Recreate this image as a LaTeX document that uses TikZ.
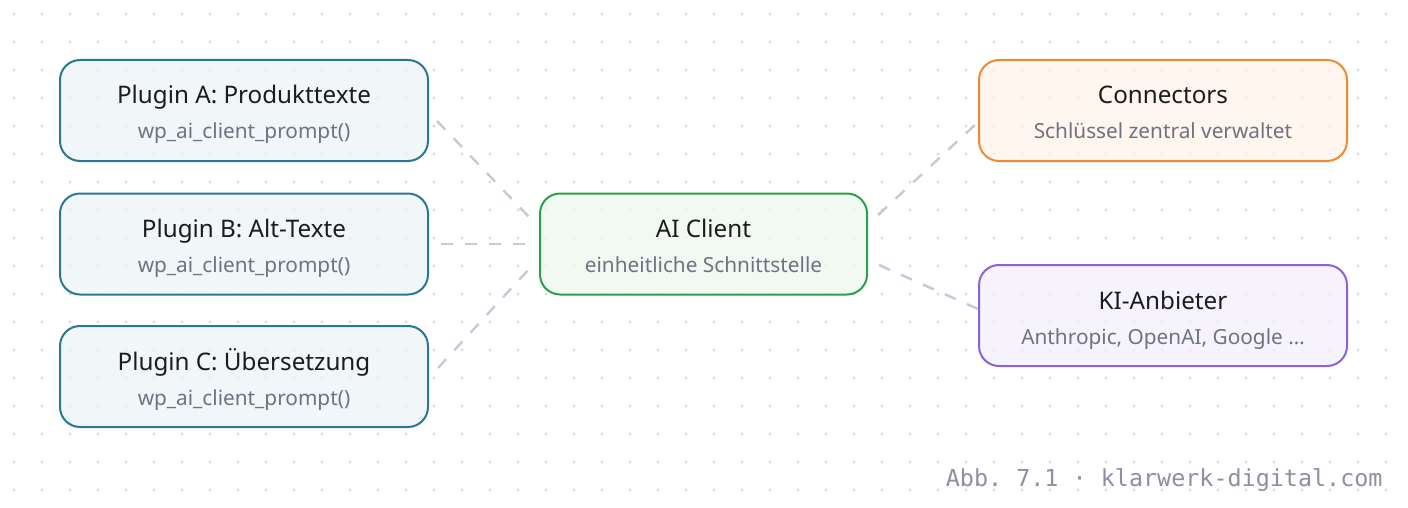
\documentclass[tikz,border=0pt]{standalone}
\usepackage{fontspec}
\setmainfont{Noto Sans}
\setmonofont{DejaVu Sans Mono}
\usetikzlibrary{calc}

\definecolor{dotc}{HTML}{DCDCDE}
\definecolor{linkc}{HTML}{C8C9D8}
\definecolor{plugline}{HTML}{2B7895}
\definecolor{plugfill}{HTML}{EDF4F6}
\definecolor{clientline}{HTML}{2AA04C}
\definecolor{clientfill}{HTML}{EEF8EF}
\definecolor{connline}{HTML}{EF8A33}
\definecolor{connfill}{HTML}{FFF4EA}
\definecolor{kiline}{HTML}{8E62D9}
\definecolor{kifill}{HTML}{F4F0FD}
\definecolor{titlec}{HTML}{1C1C1C}
\definecolor{subc}{HTML}{6E7380}
\definecolor{footc}{HTML}{8C90A0}

\tikzset{
  box/.style={draw, rounded corners=10pt, line width=1pt, minimum width=184pt,
    minimum height=50.5pt, fill opacity=0.75, draw opacity=1, inner sep=0pt},
  plugin/.style={box, draw=plugline, fill=plugfill},
  client/.style={box, draw=clientline, fill=clientfill, minimum width=163.5pt},
  conn/.style={box, draw=connline, fill=connfill},
  ki/.style={box, draw=kiline, fill=kifill},
  title/.style={anchor=base, inner sep=0pt, text=titlec, font=\fontsize{12.1}{14}\selectfont},
  sub/.style={anchor=base, inner sep=0pt, text=subc, font=\fontsize{10.4}{12}\selectfont},
  link/.style={draw=linkc, line width=1.2pt, dash pattern=on 6pt off 6pt},
}

\begin{document}
\begin{tikzpicture}[x=0.5pt, y=-0.5pt]
    \useasboundingbox[fill=white] (0,0) rectangle (1408,508);
    % Dot grid
    \foreach \i in {0,...,49}
      \foreach \j in {0,...,17}
        \fill[dotc] (14+28*\i, 14+28*\j) circle (0.8pt);

    % Plugins
    \node[plugin] (pa) at (244,110.5) {};
    \node[title] (pat) at ($(pa)+(0,-6.5)$) {Plugin A: Produkttexte};
    \node[sub] (pas) at ($(pa)+(0,28.5)$) {wp\_ai\_client\_prompt()};

    \node[plugin] (pb) at (244,244) {};
    \node[title] (pbt) at ($(pb)+(0,-6.5)$) {Plugin B: Alt-Texte};
    \node[sub] (pbs) at ($(pb)+(0,28.5)$) {wp\_ai\_client\_prompt()};

    \node[plugin] (pc) at (244,376.5) {};
    \node[title] (pct) at ($(pc)+(0,-6.5)$) {Plugin C: Übersetzung};
    \node[sub] (pcs) at ($(pc)+(0,28.5)$) {wp\_ai\_client\_prompt()};

    % Client
    \node[client] (cl) at (703.5,244) {};
    \node[title] (clt) at ($(cl)+(0,-6.5)$) {AI Client};
    \node[sub] (cls) at ($(cl)+(0,28.5)$) {einheitliche Schnittstelle};

    % Right side
    \node[conn] (co) at (1163,110.5) {};
    \node[title] (cot) at ($(co)+(0,-6.5)$) {Connectors};
    \node[sub] (cos) at ($(co)+(0,28.5)$) {Schlüssel zentral verwaltet};

    \node[ki] (ki) at (1163,315.5) {};
    \node[title] (kit) at ($(ki)+(0,-6.5)$) {KI-Anbieter};
    \node[sub] (kis) at ($(ki)+(0,28.5)$) {Anthropic, OpenAI, Google …};

    % Links
    \draw[link] ($(pa.east)+(8,10.5)$) -- ($(cl.west)+(-10,-27)$);
    \draw[link] ($(pb.east)+(12,0)$) -- ($(cl.west)+(-13,0)$);
    \draw[link] ($(pc.east)+(9,-8.5)$) -- ($(cl.west)+(-9,24)$);
    \draw[link] ($(cl.east)+(10,-29)$) -- ($(co.west)+(-2,13.5)$);
    \draw[link] ($(cl.east)+(11,21)$) -- ($(ki.west)+(0,-6.5)$);

    % Footer
    \node[anchor=base east, inner sep=0pt, text=footc, font=\ttfamily\fontsize{11.7}{14}\selectfont] (foot) at (1383,486) {Abb. 7.1 · klarwerk-digital.com};
\end{tikzpicture}
\end{document}
